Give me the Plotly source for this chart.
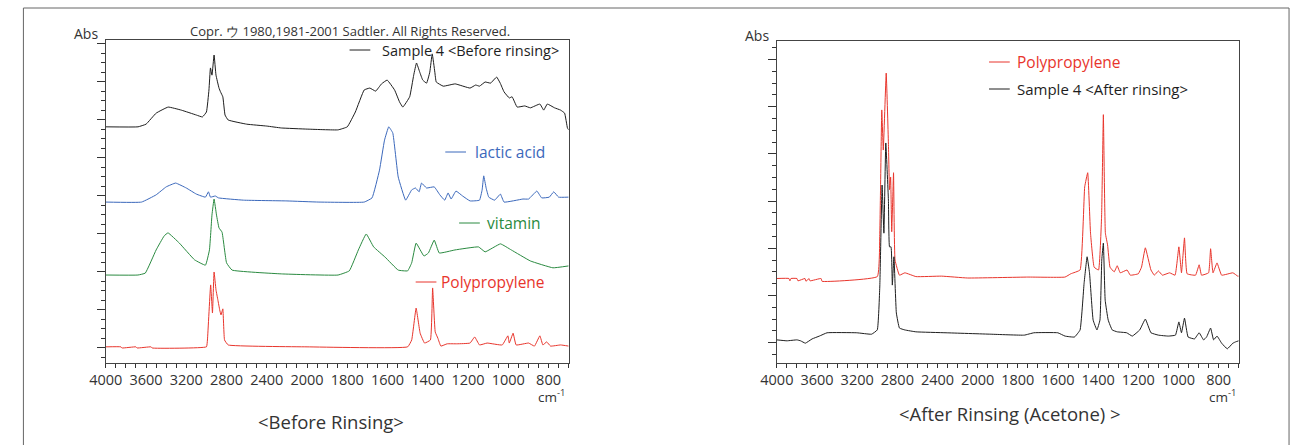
import plotly.graph_objects as go

# ---------------- data (wavenumber cm-1, absorbance, offset-stacked as displayed) -------------
before_wn = [4000, 3680, 3600, 3500, 3380, 3250, 3100, 3040, 3000, 2975, 2960, 2945, 2924, 2905,
             2875, 2860, 2837, 2815, 2784, 2600, 2400, 2256, 2000, 1846, 1800, 1760, 1716, 1688,
             1659, 1630, 1602, 1565, 1540, 1524, 1490, 1470, 1456, 1440, 1425, 1406, 1390, 1378,
             1365, 1358, 1323, 1264, 1190, 1162, 1143, 1115, 1088, 1058, 1040, 1021, 995, 981,
             956, 918, 890, 843, 824, 806, 770, 740, 720, 706, 700]
before_abs = [5.82, 5.82, 5.89, 6.18, 6.34, 6.26, 6.13, 6.08, 6.21, 6.79, 7.37, 7.18, 7.71, 7.18,
              6.84, 6.74, 6.61, 6.13, 6.00, 5.89, 5.84, 5.79, 5.76, 5.74, 5.82, 6.21, 6.79, 6.84,
              6.76, 6.95, 7.05, 6.79, 6.47, 6.34, 6.61, 7.18, 7.50, 7.26, 7.05, 6.97, 7.26, 7.74,
              7.26, 7.00, 6.89, 6.95, 6.84, 6.92, 6.89, 7.00, 6.97, 7.13, 6.97, 6.74, 6.58, 6.61,
              6.34, 6.37, 6.32, 6.42, 6.26, 6.42, 6.32, 6.26, 6.18, 5.79, 5.74]

lactic_wn = [4000, 3645, 3500, 3400, 3306, 3200, 3100, 3010, 2980, 2960, 2912, 2880, 2630, 2200,
             1941, 1716, 1677, 1640, 1615, 1594, 1574, 1547, 1510, 1480, 1461, 1443, 1431, 1406,
             1368, 1340, 1316, 1299, 1284, 1260, 1227, 1190, 1143, 1130, 1122, 1110, 1097, 1068,
             1039, 1021, 927, 899, 858, 834, 796, 774, 750, 700]
lactic_abs = [3.84, 3.84, 4.03, 4.24, 4.34, 4.21, 4.05, 3.97, 4.11, 3.97, 4.00, 3.95, 3.89, 3.87,
              3.84, 3.84, 3.95, 4.68, 5.47, 5.82, 5.66, 4.50, 3.89, 4.16, 4.21, 4.11, 4.34, 4.21,
              4.24, 4.03, 3.89, 4.08, 3.92, 4.13, 4.00, 3.87, 3.89, 4.16, 4.53, 4.21, 3.97, 3.89,
              4.05, 3.84, 3.92, 3.92, 4.13, 3.95, 3.97, 4.11, 3.97, 3.97]

vitamin_wn = [4000, 3681, 3608, 3500, 3420, 3382, 3269, 3118, 3010, 2970, 2945, 2924, 2900, 2875,
              2845, 2800, 2745, 2256, 1846, 1790, 1745, 1706, 1669, 1612, 1547, 1500, 1480, 1458,
              1419, 1397, 1368, 1343, 1265, 1148, 1115, 1039, 985, 890, 778, 700]
vitamin_abs = [1.92, 1.92, 1.97, 2.58, 2.95, 3.03, 2.76, 2.32, 2.18, 2.58, 3.50, 3.92, 3.50, 3.16,
               3.05, 2.24, 2.05, 1.95, 1.92, 2.03, 2.58, 3.00, 2.66, 2.39, 2.05, 2.03, 2.24, 2.76,
               2.42, 2.50, 2.84, 2.50, 2.58, 2.66, 2.53, 2.74, 2.58, 2.29, 2.11, 2.16]

pp_left_wn = [4000, 3850, 3840, 3700, 3690, 3550, 3540, 3000, 2990, 2958, 2940, 2924, 2905, 2886,
              2868, 2855, 2837, 2820, 2784, 2000, 1500, 1480, 1458, 1438, 1416, 1387, 1376, 1363,
              1350, 1335, 1304, 1255, 1190, 1167, 1143, 1105, 1030, 1002, 995, 976, 961, 899,
              870, 843, 828, 809, 790, 740, 700]
pp_left_abs = [0.03, 0.03, 0.00, 0.03, 0.00, 0.03, 0.00, 0.03, 0.21, 1.66, 0.92, 2.00, 1.53, 1.26,
               1.00, 0.87, 1.03, 0.21, 0.08, 0.03, 0.03, 0.21, 1.05, 0.39, 0.13, 0.21, 1.58, 0.42,
               0.26, 0.05, 0.11, 0.11, 0.13, 0.29, 0.08, 0.13, 0.08, 0.32, 0.13, 0.39, 0.08, 0.13,
               0.05, 0.32, 0.08, 0.16, 0.05, 0.08, 0.05]

pp_right_wn = [4000, 3880, 3870, 3860, 3800, 3790, 3720, 3710, 3680, 3670, 3560, 3550, 3000, 2975,
               2955, 2940, 2911, 2889, 2878, 2867, 2856, 2838, 2823, 2779, 2725, 2614, 2360, 2100,
               1750, 1565, 1536, 1490, 1467, 1452, 1438, 1420, 1398, 1383, 1374, 1364, 1353, 1341,
               1320, 1305, 1290, 1256, 1240, 1200, 1184, 1165, 1137, 1120, 1100, 1080, 1044, 1017,
               998, 985, 970, 957, 915, 897, 885, 850, 840, 828, 808, 785, 729, 705, 700]
pp_right_abs = [1.36, 1.36, 1.31, 1.36, 1.36, 1.31, 1.36, 1.30, 1.36, 1.31, 1.36, 1.30, 1.40, 2.32,
                4.93, 4.08, 5.71, 4.23, 3.24, 3.51, 2.35, 3.60, 1.75, 1.43, 1.48, 1.40, 1.41, 1.37,
                1.39, 1.39, 1.46, 1.54, 3.30, 3.60, 2.32, 1.60, 1.54, 2.66, 4.83, 2.32, 2.07, 1.60,
                1.50, 1.63, 1.48, 1.54, 1.43, 1.46, 1.60, 2.01, 1.54, 1.43, 1.52, 1.43, 1.48, 1.43,
                2.03, 1.48, 2.22, 1.46, 1.43, 1.65, 1.43, 1.48, 1.99, 1.48, 1.69, 1.43, 1.48, 1.41, 1.41]

after_wn = [4000, 3900, 3800, 3764, 3716, 3649, 3577, 3500, 3204, 3057, 3000, 2975, 2952, 2934,
            2915, 2889, 2878, 2863, 2850, 2834, 2810, 2779, 2725, 2614, 2315, 1934, 1768, 1720,
            1601, 1565, 1518, 1490, 1470, 1455, 1443, 1425, 1406, 1391, 1382, 1374, 1365, 1350,
            1330, 1305, 1258, 1230, 1193, 1165, 1137, 1100, 1050, 1015, 998, 985, 970, 952, 920,
            897, 875, 860, 840, 825, 808, 785, 757, 729, 714, 700]
after_abs = [0.06, 0.04, 0.06, 0.04, -0.01, 0.08, 0.14, 0.21, 0.21, 0.18, 0.27, 1.18, 3.34, 2.32,
             4.23, 3.02, 2.03, 2.03, 1.22, 1.82, 0.63, 0.31, 0.27, 0.23, 0.21, 0.18, 0.16, 0.21,
             0.21, 0.14, 0.12, 0.27, 1.26, 1.82, 1.48, 0.48, 0.27, 0.48, 1.75, 2.11, 0.90, 0.48,
             0.27, 0.23, 0.21, 0.14, 0.27, 0.50, 0.21, 0.16, 0.14, 0.16, 0.44, 0.21, 0.52, 0.12, 0.08,
             0.21, 0.06, 0.12, 0.31, 0.06, 0.14, -0.01, -0.13, -0.01, 0.02, 0.04]

tick_wn = [4000, 3600, 3200, 2800, 2400, 2000, 1800, 1600, 1400, 1200, 1000, 800]

# ---------------- styling ----------------
W, H = 1292, 445
FONT = "Open Sans"
TXT = "#333333"
BLACK = "#1e1e1e"
BLUE = "#3b68bb"
GREEN = "#2a8a40"
RED = "#e8352c"


def wpos(w):
    # FTIR axis with 2x scale expansion below 2000 cm-1
    return (4000 - w) / 400 if w >= 2000 else 5 + (2000 - w) / 200


def px(x):
    return x / W


def py(y):
    return 1 - y / H


fig = go.Figure()


def add(wn, ab, color, xa, ya):
    fig.add_trace(go.Scatter(x=[wpos(w) for w in wn], y=ab, mode="lines",
                             line=dict(color=color, width=1, shape="spline", smoothing=0.3),
                             xaxis=xa, yaxis=ya, showlegend=False, hoverinfo="skip"))


add(before_wn, before_abs, BLACK, "x", "y")
add(lactic_wn, lactic_abs, BLUE, "x", "y")
add(vitamin_wn, vitamin_abs, GREEN, "x", "y")
add(pp_left_wn, pp_left_abs, RED, "x", "y")
add(pp_right_wn, pp_right_abs, RED, "x2", "y2")
add(after_wn, after_abs, BLACK, "x2", "y2")

xcommon = dict(range=[0, 11.5], tickmode="array", tickvals=[wpos(w) for w in tick_wn],
               ticktext=[str(w) for w in tick_wn], ticks="outside", ticklen=4, tickwidth=1,
               tickcolor="#333", showline=True, linecolor="#444", linewidth=1, mirror=True,
               showgrid=False, zeroline=False, tickfont=dict(family=FONT, size=14.5, color=TXT),
               minor=dict(dtick=0.25, tick0=0, ticks="outside", ticklen=4, tickcolor="#333",
                          showgrid=False))
ycommon = dict(tickmode="linear", tick0=0, dtick=1, ticks="outside", ticklen=8, tickwidth=1,
               tickcolor="#333", showticklabels=False, showline=True, linecolor="#444",
               linewidth=1, mirror=True, showgrid=False, zeroline=False,
               minor=dict(dtick=0.25, tick0=0, ticks="outside", ticklen=4, tickcolor="#333",
                          showgrid=False))

fig.update_layout(
    width=W, height=H, autosize=False, margin=dict(l=0, r=0, t=0, b=0),
    paper_bgcolor="white", plot_bgcolor="white",
    xaxis=dict(domain=[px(90), px(559)], anchor="y", **xcommon),
    yaxis=dict(domain=[py(363), py(40)], anchor="x", range=[-0.395, 8.105], **ycommon),
    xaxis2=dict(domain=[px(770), px(1238)], anchor="y2", **xcommon),
    yaxis2=dict(domain=[py(363), py(41)], anchor="x2", range=[-0.43, 6.39], **ycommon),
)

ann = []


def text(x, y, s, size=14, color=TXT, xanchor="center"):
    ann.append(dict(x=px(x), y=py(y), xref="paper", yref="paper", text=s, showarrow=False,
                    xanchor=xanchor, yanchor="middle", borderpad=0,
                    font=dict(family=FONT, size=size, color=color)))


text(70, 34, "Abs", 14)
text(750, 36, "Abs", 14)
text(337, 31, "Copr. ウ 1980,1981-2001 Sadtler. All Rights Reserved.", 13)
text(542, 396, "cm<sup>-1</sup>", 13.5)
text(1222, 396, "cm<sup>-1</sup>", 13.5)
text(318, 421, "&lt;Before Rinsing&gt;", 18.5)
text(1006, 413, "&lt;After Rinsing (Acetone) &gt;", 18.5)

shapes = []


def legend(x0, x1, y, tx, label, color, size=15.5):
    shapes.append(dict(type="line", xref="paper", yref="paper", x0=px(x0), x1=px(x1),
                       y0=py(y), y1=py(y), line=dict(color=color, width=1)))
    text(tx, y, label, size, color, "left")


legend(337, 358, 50, 369, "Sample 4 &lt;Before rinsing&gt;", BLACK, 14.5)
legend(434, 455, 152, 463, "lactic acid", BLUE)
legend(448, 469, 223, 475, "vitamin", GREEN)
legend(404, 425, 282, 429, "Polypropylene", RED)
legend(985, 1006, 62, 1012, "Polypropylene", RED)
legend(985, 1006, 89, 1012, "Sample 4 &lt;After rinsing&gt;", BLACK, 15)

# outer frame
shapes.append(dict(type="rect", xref="paper", yref="paper", x0=px(6.5), x1=px(1289),
                   y0=py(460), y1=py(8), line=dict(color="#666", width=1)))

fig.update_layout(annotations=ann, shapes=shapes)
fig.write_html("out.html", config={"responsive": False, "displayModeBar": False},
               post_script="document.body.style.margin='0';document.body.style.overflow='hidden';"
                           "document.documentElement.style.overflow='hidden';")
